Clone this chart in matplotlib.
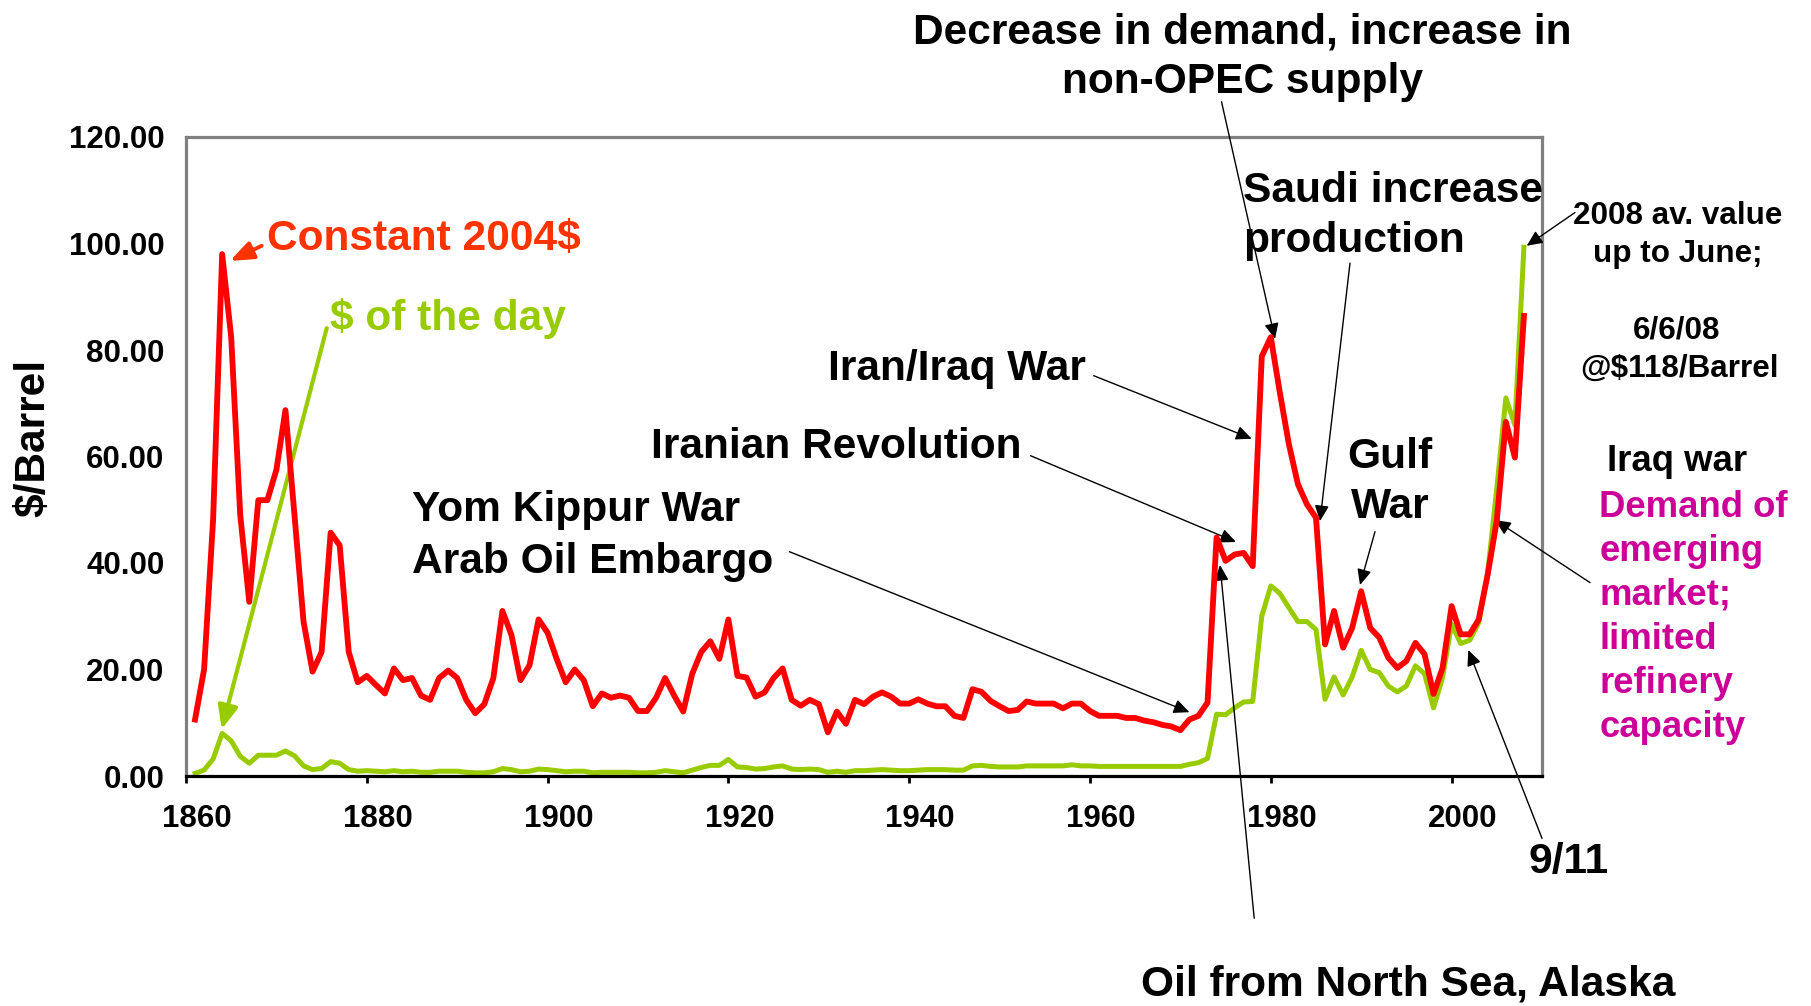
# preco do petroleo 1861-2008, dolar constante 2004 e dolar do dia
# com os eventos anotados

import numpy as np
import matplotlib
matplotlib.use('Agg')
import matplotlib.pyplot as plt
import matplotlib.transforms as mtransforms

plt.rcParams['font.family'] = ['Liberation Sans', 'DejaVu Sans']
plt.rcParams['font.weight'] = 'bold'

####################################################################################################
# dados ($/barril), um valor por ano de 1861 a 2008

anos = np.arange(1861, 2009)

constante_2004 = [
    10.6, 20.0, 48.2, 98.0, 82.4, 49.0, 32.7, 51.8, 51.8,              # 1861-1869
    57.5, 68.7, 49.0, 29.0, 19.6, 23.3, 45.7, 43.3, 23.3, 17.6,        # 1870
    18.8, 17.1, 15.5, 20.2, 18.0, 18.4, 15.1, 14.3, 18.4, 19.8,        # 1880
    18.4, 14.3, 11.8, 13.5, 18.4, 31.0, 26.5, 18.0, 20.8, 29.4,        # 1890
    26.9, 22.0, 17.6, 20.0, 18.0, 13.1, 15.5, 14.7, 15.1, 14.7,        # 1900
    12.2, 12.2, 14.7, 18.4, 15.1, 12.1, 19.2, 23.3, 25.3, 22.0,        # 1910
    29.4, 18.8, 18.5, 14.9, 15.7, 18.4, 20.2, 14.3, 13.2, 14.3,        # 1920
    13.5, 8.2, 12.1, 9.8, 14.3, 13.5, 14.9, 15.7, 14.9, 13.6,          # 1930
    13.6, 14.4, 13.6, 13.1, 13.1, 11.3, 10.9, 16.3, 15.8, 14.1,        # 1940
    13.1, 12.2, 12.4, 14.0, 13.6, 13.6, 13.6, 12.7, 13.6, 13.6,        # 1950
    12.2, 11.3, 11.3, 11.3, 10.9, 10.9, 10.4, 10.1, 9.6, 9.3,          # 1960
    8.6, 10.6, 11.3, 13.8, 44.8, 40.4, 41.6, 41.9, 39.4, 78.8,         # 1970
    82.4, 72.0, 62.3, 54.8, 51.0, 48.5, 24.7, 31.0, 24.1, 27.8,        # 1980
    34.7, 27.8, 26.0, 22.2, 20.3, 21.6, 25.0, 22.9, 15.4, 20.3,        # 1990
    31.9, 26.6, 26.6, 29.4, 37.9, 48.0, 66.5, 59.8, 86.4,              # 2000-2008
]

dolar_do_dia = [
    0.5, 1.1, 3.2, 8.0, 6.6, 3.7, 2.4, 3.9, 3.9,                       # 1861-1869
    3.9, 4.7, 3.8, 1.9, 1.2, 1.4, 2.7, 2.4, 1.2, 0.9,                  # 1870
    1.0, 0.9, 0.8, 1.0, 0.8, 0.9, 0.7, 0.7, 0.9, 0.9,                  # 1880
    0.9, 0.7, 0.6, 0.6, 0.8, 1.4, 1.2, 0.8, 0.9, 1.3,                  # 1890
    1.2, 1.0, 0.8, 0.9, 0.9, 0.6, 0.7, 0.7, 0.7, 0.7,                  # 1900
    0.6, 0.6, 0.7, 1.0, 0.8, 0.6, 1.1, 1.6, 2.0, 2.0,                  # 1910
    3.1, 1.7, 1.6, 1.3, 1.4, 1.7, 1.9, 1.3, 1.2, 1.3,                  # 1920
    1.2, 0.7, 0.9, 0.7, 1.0, 1.0, 1.1, 1.2, 1.1, 1.0,                  # 1930
    1.0, 1.1, 1.2, 1.2, 1.2, 1.1, 1.1, 1.9, 2.0, 1.8,                  # 1940
    1.7, 1.7, 1.7, 1.9, 1.9, 1.9, 1.9, 1.9, 2.1, 1.9,                  # 1950
    1.9, 1.8, 1.8, 1.8, 1.8, 1.8, 1.8, 1.8, 1.8, 1.8,                  # 1960
    1.8, 2.2, 2.5, 3.3, 11.6, 11.5, 12.8, 13.9, 14.0, 30.0,            # 1970
    35.7, 34.3, 31.6, 29.0, 29.0, 27.5, 14.4, 18.6, 15.2, 18.6,        # 1980
    23.6, 20.0, 19.4, 16.9, 15.8, 16.9, 20.7, 19.2, 12.8, 18.5,        # 1990
    28.5, 24.9, 25.5, 28.8, 38.3, 54.0, 71.0, 65.9, 99.3,              # 2000-2008
]

ticks_x = [1860, 1880, 1900, 1920, 1940, 1960, 1980, 2000]
ticks_y = [0, 20, 40, 60, 80, 100, 120]

####################################################################################################
# figura: 1811 x 1006 px

W, H = 1811, 1006
fig = plt.figure(figsize=(W / 100, H / 100), dpi=100)
ax = fig.add_axes([186 / W, 230 / H, 1356 / W, 639 / H])

ax.plot(anos, dolar_do_dia, color='#99CC00', lw=3.6, zorder=3)
ax.plot(anos, constante_2004, color='#FF0000', lw=4.2, zorder=4)

ax.set_xlim(1860, 2010)
ax.set_ylim(0, 120)

for lado in ['top', 'right', 'left']:
    ax.spines[lado].set_color('#808080')
    ax.spines[lado].set_linewidth(2.3)
ax.spines['bottom'].set_color('black')
ax.spines['bottom'].set_linewidth(2.3)
ax.spines['bottom'].set_zorder(5)

ax.set_xticks(ticks_x)
ax.set_xticklabels([str(t) for t in ticks_x])
ax.tick_params(axis='x', length=5, width=2, color='black', pad=15.5, labelsize=22.5)
# no excel o rotulo fica um pouco a direita da marca
desloca = mtransforms.ScaledTranslation(11 / 100, 0, fig.dpi_scale_trans)
for rotulo in ax.get_xticklabels():
    rotulo.set_transform(rotulo.get_transform() + desloca)

ax.set_yticks(ticks_y)
ax.set_yticklabels([f'{v:.2f}' for v in ticks_y])
ax.tick_params(axis='y', length=0, pad=15.5, labelsize=22.5)

fig.text(33.5 / W, 1 - 438 / H, '$/Barrel', rotation=90, ha='center', va='center', fontsize=30.6)

####################################################################################################
# textos (posicao em px da referencia, origem no canto superior esquerdo, linha de base)

def pos(x, y):
    return x / W, 1 - y / H

textos = [
    ('Decrease in demand, increase in', 1242, 43.3, 'center', 30.6, 'black'),
    ('non-OPEC supply', 1242, 93.3, 'center', 30.6, 'black'),
    ('Saudi increase', 1243, 201.7, 'left', 30.6, 'black'),
    ('production', 1243, 251.7, 'left', 30.6, 'black'),
    ('Iran/Iraq War', 827.7, 379.6, 'left', 30.6, 'black'),
    ('Iranian Revolution', 650.9, 458.3, 'left', 30.6, 'black'),
    ('Yom Kippur War', 411.7, 521.1, 'left', 30.6, 'black'),
    ('Arab Oil Embargo', 411.7, 573.2, 'left', 30.6, 'black'),
    ('Gulf', 1390, 468.3, 'center', 30.6, 'black'),
    ('War', 1390, 518.3, 'center', 30.6, 'black'),
    ('Constant 2004$', 266.7, 250.1, 'left', 30.6, '#FF3300'),
    ('$ of the day', 330, 330.3, 'left', 30.6, '#99CC00'),
    ('2008 av. value', 1678, 224, 'center', 22.6, 'black'),
    ('up to June;', 1678, 262.3, 'center', 22.6, 'black'),
    ('6/6/08', 1677, 338.8, 'center', 22.6, 'black'),
    ('@$118/Barrel', 1679, 377.1, 'center', 22.6, 'black'),
    ('Iraq war', 1677, 470.9, 'center', 26.3, 'black'),
    ('9/11', 1569, 873.3, 'center', 30.6, 'black'),
    ('Oil from North Sea, Alaska', 1408, 996, 'center', 30.6, 'black'),
]
for s, x, y, ha, fs, cor in textos:
    fig.text(*pos(x, y), s, ha=ha, va='baseline', fontsize=fs, color=cor)

linhas_magenta = ['Demand of', 'emerging', 'market;', 'limited', 'refinery', 'capacity']
for i, s in enumerate(linhas_magenta):
    fig.text(*pos(1599.3, 516.8 + 44 * i), s, ha='left', va='baseline', fontsize=26.3, color='#CC0099')

####################################################################################################
# setas: ponta em coordenadas do dado, inicio em px da referencia

def px_dado(x, y):
    return 1860 + (x - 186) / 9.04, (776 - y) / 5.325

setas = [
    ((1221.5, 101.7), (1275, 339)),     # decrease in demand
    ((1350, 263.1), (1320, 521.1)),     # saudi
    ((1093.7, 375.7), (1251.7, 438.7)), # iran/iraq
    ((1030.5, 455.7), (1236, 542)),     # iranian revolution
    ((789.4, 551.7), (1189.4, 712.2)),  # yom kippur
    ((1254.2, 918.3), (1220, 565)),     # north sea
    ((1375, 531.7), (1360, 585)),       # gulf war
    ((1542, 838.3), (1468.3, 650)),     # 9/11
    ((1590, 582.6), (1495, 520)),       # iraq war
    ((1575, 212.5), (1526.7, 245.8)),   # 2008
]
for ini, fim in setas:
    ax.annotate('', xy=px_dado(*fim), xycoords='data',
                xytext=(ini[0], H - ini[1]), textcoords='figure pixels',
                arrowprops=dict(arrowstyle='-|>,head_length=0.95,head_width=0.43',
                                mutation_scale=10, color='black', lw=1.0,
                                shrinkA=0, shrinkB=0))

ax.annotate('', xy=px_dado(230, 260.9), xycoords='data',
            xytext=(261.7, H - 245.8), textcoords='figure pixels',
            arrowprops=dict(arrowstyle='-|>,head_length=1.4,head_width=0.55',
                            mutation_scale=10, color='#FF3300', lw=2.8,
                            shrinkA=0, shrinkB=0))
ax.annotate('', xy=px_dado(221.7, 729.3), xycoords='data',
            xytext=(326.7, H - 328.2), textcoords='figure pixels',
            arrowprops=dict(arrowstyle='-|>,head_length=1.4,head_width=0.6',
                            mutation_scale=10, color='#99CC00', lw=3.0,
                            shrinkA=0, shrinkB=0))

fig.savefig('out.png', dpi=100)
